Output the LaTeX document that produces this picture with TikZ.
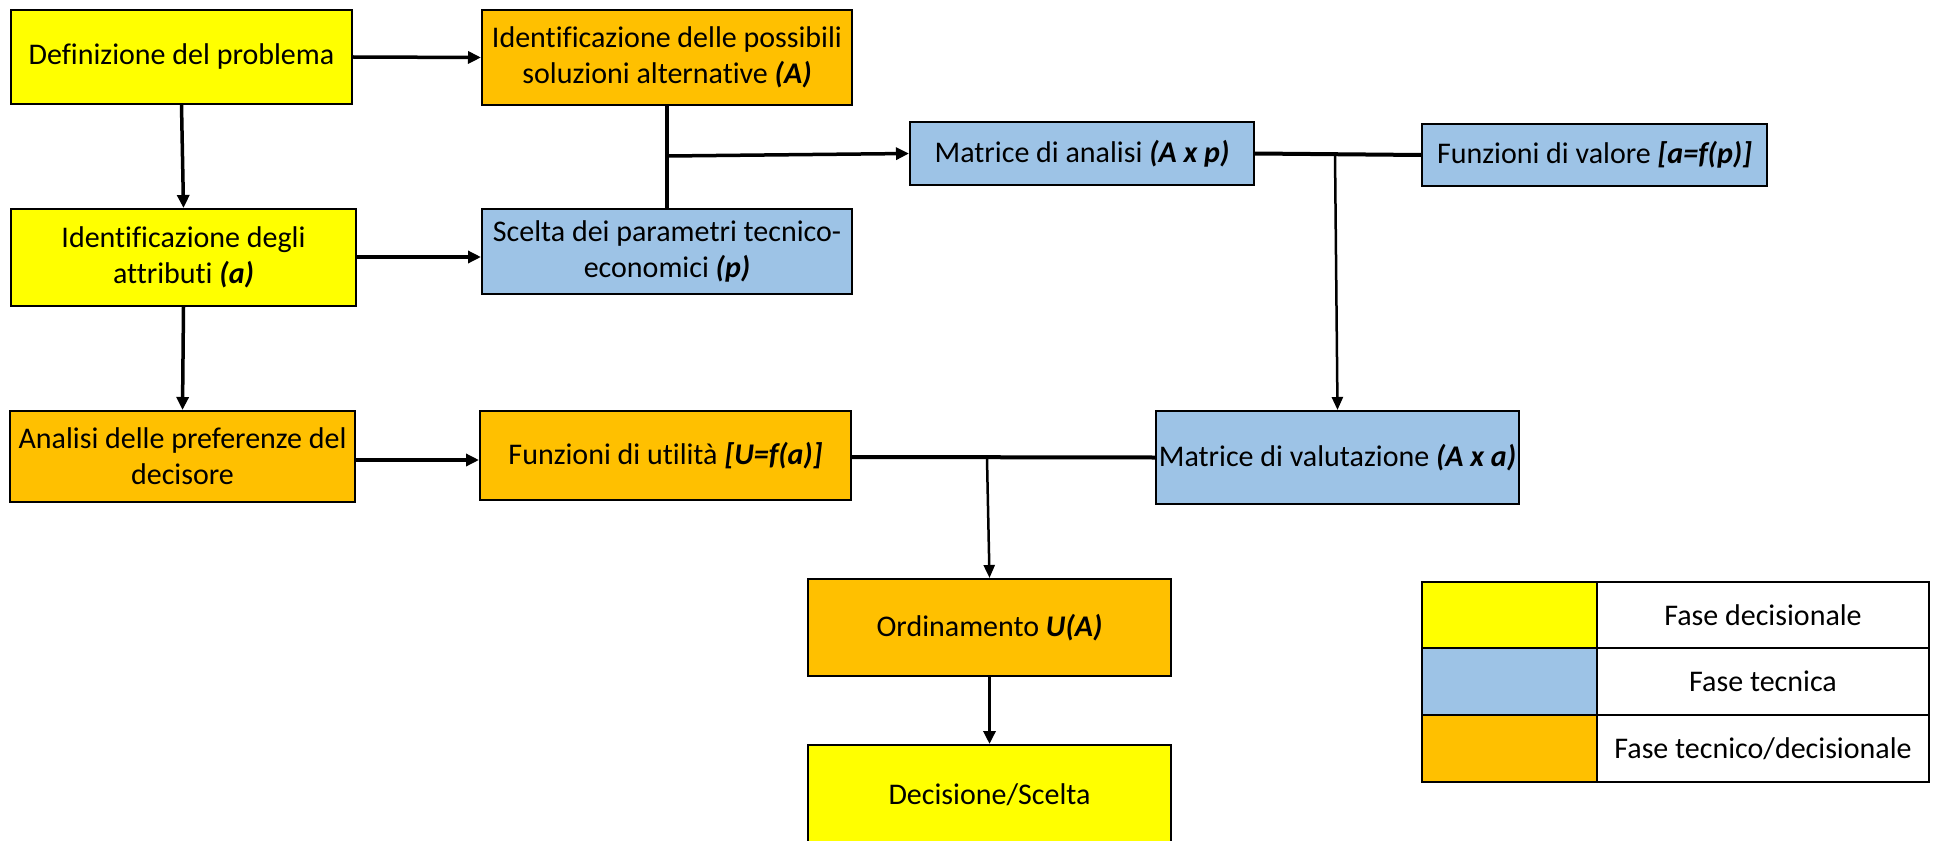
\documentclass[tikz,border=0pt]{standalone}
\usepackage{fontspec}
\setmainfont{Carlito}[Ligatures=NoCommon]
\usetikzlibrary{arrows.meta}
\definecolor{cyel}{HTML}{FFFF00}
\definecolor{corg}{HTML}{FFC000}
\definecolor{cblu}{HTML}{9DC3E6}
\newcommand{\ik}[1]{\textbf{\textit{#1}}}
\tikzset{
  box/.style={draw=black, line width=2pt, inner sep=0pt, align=center,
    font=\fontsize{30}{36}\selectfont},
  ybox/.style={box, fill=cyel},
  obox/.style={box, fill=corg},
  bbox/.style={box, fill=cblu},
  thk/.style={line width=4pt},
  arr/.style={line width=3.5pt, -{Triangle[length=13pt,width=12pt]}},
  tarr/.style={line width=2.5pt, -{Triangle[length=13pt,width=11pt]}},
  legcell/.style={draw=black, line width=2pt, inner sep=0pt, align=center,
    font=\fontsize{30}{36}\selectfont},
}
\begin{document}
\begin{tikzpicture}[x=1pt,y=-1pt]
\useasboundingbox[fill=white] (0,0) rectangle (1934,840);

\node[ybox, minimum width=341pt, minimum height=94pt] (def) at (181.5,57) {Definizione del problema};
\node[obox, minimum width=370pt, minimum height=95pt] (ida) at (667,57.5) {Identificazione delle possibili\\soluzioni alternative \ik{(A)}};
\node[ybox, minimum width=345pt, minimum height=97pt] (attr) at (183.5,257.5) {Identificazione degli\\attributi \ik{(a)}};
\node[bbox, minimum width=370pt, minimum height=85pt] (scelta) at (667,251.5) {Scelta dei parametri tecnico-\\economici \ik{(p)}};
\node[bbox, minimum width=344pt, minimum height=63pt] (mda) at (1082,153.5) {Matrice di analisi \ik{(A x p)}};
\node[bbox, minimum width=345pt, minimum height=62pt] (fdv) at (1594.5,155) {Funzioni di valore \ik{[a=f(p)]}};
\node[obox, minimum width=345pt, minimum height=91pt] (analisi) at (182.5,456.5) {Analisi delle preferenze del\\decisore};
\node[obox, minimum width=371pt, minimum height=89pt] (fu) at (665.5,455.5) {Funzioni di utilità \ik{[U=f(a)]}};
\node[bbox, minimum width=363pt, minimum height=93pt] (mdv) at (1337.5,457.5) {Matrice di valutazione \ik{(A x a)}};
\node[obox, minimum width=363pt, minimum height=97pt] (ord) at (989.5,627.5) {Ordinamento \ik{U(A)}};
\node[ybox, minimum width=363pt, minimum height=100pt] (dec) at (989.5,795) {Decisione/Scelta};

% legend
\node[legcell, fill=cyel, minimum width=175pt, minimum height=66.7pt] (l1c) at (1509.5,615) {};
\node[legcell, fill=cblu, minimum width=175pt, minimum height=66.7pt] (l2c) at (1509.5,681.7) {};
\node[legcell, fill=corg, minimum width=175pt, minimum height=66.7pt] (l3c) at (1509.5,748.4) {};
\node[legcell, fill=white, minimum width=332pt, minimum height=66.7pt] (l1t) at (1763,615) {Fase decisionale};
\node[legcell, fill=white, minimum width=332pt, minimum height=66.7pt] (l2t) at (1763,681.7) {Fase tecnica};
\node[legcell, fill=white, minimum width=332pt, minimum height=66.7pt] (l3t) at (1763,748.4) {Fase tecnico/decisionale};

% connectors
\coordinate (j1) at (668,156);
\coordinate (j2) at (1335,154.5);
\coordinate (j3) at (987,459);

\draw[arr] (def.east) -- (ida.west);
\draw[arr] (def.south) -- (attr.north);
\draw[arr] (attr.east |- 0,257) -- (scelta.west |- 0,257);
\draw[arr] (attr.south) -- (analisi.north);
\draw[arr] (analisi.east |- 0,460) -- (fu.west |- 0,460);
\draw[thk] (ida.south) -- (scelta.north);
\draw[arr] (j1) -- (mda.west);
\draw[thk] (mda.east) -- (fdv.west);
\draw[tarr] (j2) -- (mdv.north);
\draw[thk] (fu.east |- 0,457) -- (mdv.west);
\draw[tarr] (j3) -- (ord.north);
\draw[arr] (ord.south) -- (dec.north);
\end{tikzpicture}
\end{document}
